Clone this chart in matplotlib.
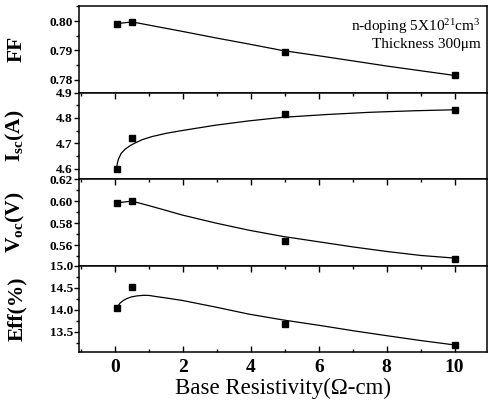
import matplotlib
matplotlib.use("Agg")
import matplotlib.pyplot as plt
from matplotlib.ticker import AutoMinorLocator, FormatStrFormatter

plt.rcParams['font.family'] = ['Liberation Serif', 'DejaVu Serif']
plt.rcParams['mathtext.default'] = 'regular'

# measured points (base resistivity in ohm-cm)
rho = [0.05, 0.5, 5, 10]
ff = [0.7991, 0.7997, 0.7896, 0.7815]
isc = [4.598, 4.722, 4.815, 4.832]
voc = [0.5979, 0.600, 0.5636, 0.5479]
eff = [14.04, 14.51, 13.68, 13.20]

# fitted curves
ff_fit_x = [0.05, 0.5, 1.97, 2.95, 3.93, 4.92, 6.05, 7.03, 8.0, 9.0, 10.0]
ff_fit = [0.7991, 0.7997, 0.7965, 0.7943, 0.7922, 0.7900, 0.7881, 0.7864, 0.7847, 0.7831, 0.7815]

isc_fit_x = [0.05, 0.07, 0.1, 0.18, 0.3, 0.45, 0.59, 0.8, 1.08, 1.5, 1.97, 2.95, 3.93, 4.92, 6.2, 7.5, 8.8, 10.0]
isc_fit = [4.605, 4.622, 4.637, 4.660, 4.677, 4.691, 4.701, 4.714, 4.726, 4.739, 4.750, 4.771, 4.788, 4.802, 4.813, 4.822, 4.828, 4.832]

voc_fit_x = [0.05, 0.5, 0.93, 1.4, 1.97, 2.95, 3.93, 4.92, 6.05, 7.03, 8.0, 9.0, 10.0]
voc_fit = [0.5985, 0.600, 0.5965, 0.5925, 0.5875, 0.5803, 0.5738, 0.5682, 0.5630, 0.5585, 0.5545, 0.5509, 0.5485]

eff_fit_x = [0.08, 0.15, 0.25, 0.36, 0.49, 0.65, 0.84, 1.0, 1.18, 1.5, 1.97, 2.95, 3.93, 4.92, 6.05, 7.03, 8.0, 9.0, 10.0]
eff_fit = [14.075, 14.15, 14.21, 14.255, 14.29, 14.312, 14.325, 14.322, 14.30, 14.265, 14.21, 14.06, 13.90, 13.77, 13.64, 13.52, 13.41, 13.30, 13.20]

ylabels = ['FF', 'I$_{sc}$(A)', 'V$_{oc}$(V)', 'Eff(%)']
ylims = [(0.7757, 0.8051), (4.559, 4.9), (0.5418, 0.62), (13.04, 15.0)]
yticks = [[0.78, 0.79, 0.80], [4.6, 4.7, 4.8, 4.9], [0.56, 0.58, 0.60, 0.62], [13.5, 14.0, 14.5, 15.0]]
yfmt = ['%.2f', '%.1f', '%.2f', '%.1f']

fig, axes = plt.subplots(4, 1, sharex=True, figsize=(4.89, 4.12), dpi=100)
fig.subplots_adjust(left=0.1616, right=0.995, top=0.9854, bottom=0.1456, hspace=0)

series = [(ff, ff_fit_x, ff_fit), (isc, isc_fit_x, isc_fit),
          (voc, voc_fit_x, voc_fit), (eff, eff_fit_x, eff_fit)]

for i, ax in enumerate(axes):
    pts, fx, fy = series[i]
    ax.plot(fx, fy, color='black', lw=0.9)
    ax.plot(rho, pts, 's', color='black', ms=5)
    ax.set_ylim(*ylims[i])
    ax.set_yticks(yticks[i])
    ax.yaxis.set_major_formatter(FormatStrFormatter(yfmt[i]))
    ax.yaxis.set_minor_locator(AutoMinorLocator(2))
    ax.set_ylabel(ylabels[i], fontsize=15.5, fontweight='bold')
    ax.yaxis.set_label_coords(-0.128, 0.5)
    ax.tick_params(axis='y', which='major', direction='out', length=3.5, width=1, labelsize=9.5, pad=1)
    ax.tick_params(axis='y', which='minor', direction='out', length=2, width=1)
    ax.tick_params(axis='x', which='major', direction='in', length=4.5, width=1,
                   top=(i > 0), bottom=(i == 3), labelbottom=(i == 3), labelsize=14, pad=5)
    ax.tick_params(axis='x', which='minor', direction='in', length=2.5, width=1,
                   top=(i > 0), bottom=(i == 3))
    for lab in ax.get_yticklabels():
        lab.set_fontweight('bold')
    for sp in ax.spines.values():
        sp.set_linewidth(1.1)

axes[3].set_xlim(-1.06, 10.94)
axes[3].set_xticks([0, 2, 4, 6, 8, 10])
axes[3].xaxis.set_minor_locator(AutoMinorLocator(2))
for lab in axes[3].get_xticklabels():
    lab.set_fontweight('bold')
axes[3].set_xlabel('Base Resistivity(\u03a9-cm)', fontsize=16.5, labelpad=1)

axes[0].text(0.985, 0.76, 'n-doping 5X10$^{21}$cm$^{3}$', transform=axes[0].transAxes,
             ha='right', va='center', fontsize=11)
axes[0].text(0.985, 0.55, 'Thickness 300\u03bcm', transform=axes[0].transAxes,
             ha='right', va='center', fontsize=11)

fig.savefig('out.png', dpi=100)
